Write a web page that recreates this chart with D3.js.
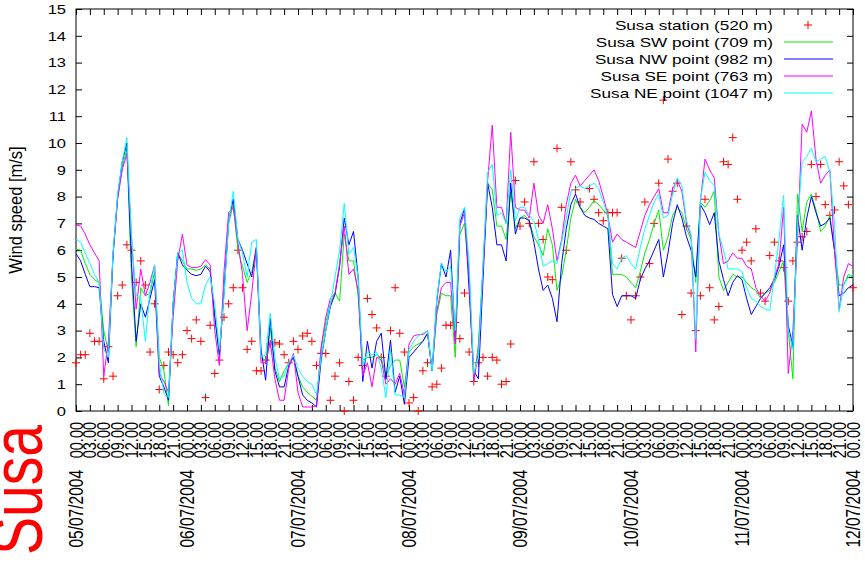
<!DOCTYPE html>
<html>
<head>
<meta charset="utf-8">
<script src="https://cdn.jsdelivr.net/npm/d3@7"></script>
<style>
  html, body { margin: 0; padding: 0; background: #fff; }
  svg { display: block; }
  text { font-family: "Liberation Sans", Arial, Helvetica, sans-serif; }
</style>
</head>
<body>
<svg id="chart" width="865" height="563"></svg>
<script>
// ---------------- data ----------------
const startTime = "2004-07-05T00:00:00Z";
const endTime = "2004-07-12T00:00:00Z";
const stepHours = 1;
const yTicks = [0,1,2,3,4,5,6,7,8,9,10,11,12,13,14,15];
const seriesNames = ["Susa station (520 m)", "Susa SW point (709 m)", "Susa NW point (982 m)", "Susa SE point (763 m)", "Susa NE point (1047 m)"];
const seriesColors = ["#ff0000", "#00ee00", "#0000ff", "#ff00ff", "#00ffff"];
const yTitle = "Wind speed [m/s]";
const sideTitle = "Susa";

const station = [1.8,2.1,2.1,2.9,2.6,2.6,1.2,2.4,1.3,4.3,4.7,6.2,6.0,4.8,5.6,4.7,2.2,4.0,0.8,1.7,2.2,2.1,1.8,2.1,
 3.0,2.7,3.4,2.6,0.5,3.2,1.4,1.9,3.5,4.0,4.6,6.0,4.6,2.3,2.6,1.5,1.5,1.9,2.5,2.55,2.5,2.1,1.8,2.6,
 2.3,2.8,2.9,2.6,1.7,2.15,2.15,0.4,1.3,1.8,0.0,1.1,0.4,2.0,1.7,4.2,3.6,3.1,2.0,1.3,3.0,4.6,2.9,2.2,
 0.3,0.5,0.0,1.5,1.8,0.9,1.0,1.6,3.2,3.2,3.3,2.7,4.4,2.2,1.1,1.8,2.0,1.3,2.0,1.9,1.0,1.1,2.5,8.6,
 6.9,7.8,7.0,9.3,7.0,6.4,5.0,4.9,9.8,7.6,6.0,9.3,8.25,7.8,null,8.3,7.9,7.4,7.1,7.4,7.4,7.4,5.7,4.3,
 3.4,4.3,5.0,7.8,5.5,7.0,8.5,11.6,9.4,8.2,8.5,3.6,6.9,4.4,3.0,4.3,7.9,4.6,3.4,3.9,9.3,9.2,10.2,7.9,
 6.0,6.3,5.6,6.8,4.4,4.1,5.8,6.3,5.6,5.35,4.1,5.6,6.3,6.5,6.7,9.2,8.0,9.2,7.7,7.3,7.5,9.3,8.4,7.7,
 4.6];

const sw = [6.04,6.0,5.5,5.1,4.9,4.8,3.0,2.2,5.8,8.0,9.1,9.8,5.0,2.4,4.6,4.3,4.4,5.2,2.0,1.5,0.2,4.0,5.9,5.6,
 5.3,5.3,5.25,5.3,5.45,5.3,3.6,2.0,4.5,7.0,7.7,6.0,5.4,4.8,5.2,6.1,2.0,1.9,3.1,1.6,1.1,1.5,1.8,2.0,
 1.3,0.9,0.7,0.55,0.4,2.3,3.3,4.0,4.4,4.1,6.6,5.6,5.6,4.3,1.9,2.0,2.0,2.1,2.0,1.3,1.7,1.9,1.9,0.9,
 2.2,2.4,2.5,2.6,2.9,1.5,3.6,4.4,4.3,4.3,2.0,6.6,7.0,5.0,1.1,2.5,5.3,8.5,8.25,6.9,6.9,6.4,8.2,6.8,
 7.2,7.3,7.1,6.5,6.2,5.8,6.8,6.2,4.5,5.0,6.0,7.2,7.9,7.6,7.4,7.6,7.85,7.7,7.5,7.3,5.1,5.1,5.1,5.0,
 4.8,4.6,5.2,5.9,6.4,7.0,7.5,6.0,6.5,7.3,7.6,7.4,6.8,6.4,4.8,7.8,7.6,7.85,8.2,5.0,4.5,4.8,5.1,5.0,
 5.0,4.8,4.6,4.5,4.2,4.4,4.5,4.8,5.2,5.6,3.0,1.2,8.1,6.7,7.8,8.1,7.5,6.7,6.9,7.3,6.0,4.7,4.7,5.1,
 5.0];

const nw = [5.87,5.6,5.1,4.64,4.64,4.6,2.6,1.8,5.8,8.0,9.3,10.0,5.5,2.6,4.0,3.5,4.2,4.9,1.3,0.9,0.4,4.0,5.9,5.45,
 5.25,5.1,5.05,5.1,5.4,5.2,3.5,2.1,4.4,7.1,7.9,6.4,6.0,5.5,5.0,6.1,2.3,1.15,3.46,1.5,0.9,0.9,1.7,2.0,
 1.3,0.6,0.4,0.3,0.15,1.9,3.0,3.9,4.35,5.4,7.2,6.2,6.7,5.0,1.1,2.6,1.6,2.6,2.9,1.2,2.65,0.7,1.3,0.25,
 2.0,2.2,2.4,2.6,2.9,1.5,4.1,5.5,5.0,6.0,2.6,7.0,7.55,4.5,1.5,1.2,4.9,8.5,7.6,6.2,6.2,5.6,8.5,6.6,
 7.2,7.2,7.1,6.3,5.3,4.5,4.7,4.2,3.33,5.5,6.8,7.7,8.1,7.6,7.3,7.2,7.15,7.0,6.9,6.8,4.35,3.9,4.3,4.3,
 4.3,4.2,4.9,5.3,5.6,6.0,6.4,5.0,5.9,7.0,7.7,7.2,6.5,6.0,5.0,7.7,7.4,6.95,7.4,5.6,4.9,4.3,4.8,5.05,
 4.9,4.2,3.6,3.9,4.2,4.4,4.6,4.9,5.4,6.2,3.2,2.4,7.3,6.0,7.2,8.0,7.4,6.9,7.0,7.2,6.0,4.3,4.4,4.6,
 4.7];

const se = [6.94,6.9,6.6,6.2,5.9,5.6,1.3,2.6,5.8,7.9,9.0,9.6,6.5,3.8,5.3,4.3,4.8,5.45,1.4,1.1,0.7,3.5,5.6,6.6,
 5.45,5.35,5.35,5.4,5.65,5.45,3.0,1.7,5.2,7.4,7.6,6.3,5.1,3.0,4.4,6.1,1.8,1.8,2.6,1.2,0.4,0.4,1.6,2.15,
 0.7,0.15,0.15,0.15,0.2,2.4,3.5,4.2,4.4,5.5,6.9,5.1,5.3,4.5,1.3,1.8,0.9,2.0,1.9,1.0,1.2,1.0,1.4,0.6,
 2.5,2.8,2.85,2.85,3.0,1.5,3.7,4.6,4.8,4.8,2.5,6.9,7.4,5.0,1.1,2.2,5.3,8.6,10.67,7.6,7.6,7.0,10.4,7.6,
 7.5,7.5,7.2,8.5,7.3,7.0,7.7,6.8,5.6,6.4,7.7,8.5,8.8,8.4,8.6,8.8,9.0,8.6,8.0,7.3,6.3,6.6,6.4,6.3,
 6.2,6.1,6.7,7.3,7.7,8.0,8.3,7.4,7.4,8.3,8.6,8.2,7.0,6.5,2.2,7.8,9.4,9.0,8.7,6.6,5.5,5.6,5.9,5.7,
 5.7,5.4,5.3,4.6,4.3,4.1,4.4,5.0,5.5,7.6,1.4,3.0,6.4,10.7,10.4,11.2,9.4,8.5,8.8,9.0,6.0,3.8,5.0,5.5,
 5.4];

const ne = [6.42,6.3,5.9,5.5,5.1,4.8,2.3,2.0,5.9,8.1,9.3,10.2,6.5,4.3,4.2,2.6,4.5,5.45,1.8,0.65,0.5,4.0,5.9,6.0,
 4.8,4.2,4.0,4.0,4.7,5.0,4.0,2.3,4.3,7.0,8.2,6.4,5.9,5.0,6.3,6.4,2.0,2.1,3.65,2.0,1.2,1.3,1.8,2.1,
 1.6,1.3,1.1,1.0,0.6,2.0,3.0,4.0,5.0,6.0,7.75,5.85,6.1,5.0,1.7,2.2,2.1,2.2,1.6,0.5,2.3,0.6,0.6,0.5,
 2.3,2.6,2.8,2.9,3.0,1.5,4.2,5.5,5.2,5.4,3.0,7.2,7.6,5.5,1.4,2.0,5.5,8.9,9.2,7.3,7.4,7.0,9.0,7.1,
 7.6,7.6,7.3,7.1,6.4,5.4,5.5,5.6,5.5,6.3,7.2,8.2,8.3,8.4,8.3,8.4,8.5,8.3,7.8,7.3,5.5,5.3,5.7,5.8,
 5.5,5.3,6.1,6.8,7.3,7.8,8.1,7.2,7.3,8.1,8.7,8.4,7.1,6.6,2.7,7.9,8.9,8.6,8.4,6.6,6.0,5.3,5.3,5.3,
 5.2,4.6,4.2,4.1,3.9,3.8,3.75,5.0,6.4,8.06,3.0,2.3,7.0,9.3,9.5,9.8,9.3,9.4,9.5,8.9,7.0,3.7,4.7,5.0,
 5.1];

// ---------------- layout ----------------
const W = 865, H = 563;
const plot = { left: 76, right: 853, top: 9, bottom: 411 };
const textStretch = 1.27;   // the reference image is horizontally stretched

const svg = d3.select("#chart");
svg.append("rect").attr("width", W).attr("height", H).attr("fill", "#fff");

const t0 = new Date(startTime), t1 = new Date(endTime);
const timeAt = i => d3.utcHour.offset(t0, i * stepHours);

const x = d3.scaleUtc().domain([t0, t1]).range([plot.left, plot.right]);
const y = d3.scaleLinear().domain([0, 15]).range([plot.bottom, plot.top]);

// ---------------- axes ----------------
const tick3h = d3.utcHour.every(3).range(t0, d3.utcHour.offset(t1, 1));
const tickDays = d3.utcDay.range(t0, d3.utcHour.offset(t1, 1));

// left
const gLeft = svg.append("g").attr("transform", `translate(${plot.left},0)`)
  .call(d3.axisLeft(y).tickValues(yTicks).tickSize(-6).tickPadding(0).tickFormat(d3.format("d")));
gLeft.selectAll("text")
  .attr("x", 0).attr("dy", null)
  .attr("transform", `translate(-10,0) scale(${textStretch},1)`)
  .attr("dominant-baseline", "central")
  .attr("font-size", 13).attr("fill", "#000");
// right
svg.append("g").attr("transform", `translate(${plot.right},0)`)
  .call(d3.axisRight(y).tickValues(yTicks).tickSize(-6).tickFormat(""));
// top
svg.append("g").attr("transform", `translate(0,${plot.top})`)
  .call(d3.axisTop(x).tickValues(tick3h).tickSize(-6).tickFormat(""));
// bottom (time-of-day labels)
const gBottom = svg.append("g").attr("transform", `translate(0,${plot.bottom})`)
  .call(d3.axisBottom(x).tickValues(tick3h).tickSize(-6).tickFormat(d3.utcFormat("%H.%M")));
gBottom.selectAll("text")
  .attr("y", 0).attr("dy", null).attr("x", 0)
  .attr("transform", `translate(0,11) scale(${textStretch},1) rotate(-90)`)
  .attr("text-anchor", "end")
  .attr("dominant-baseline", "central")
  .attr("font-size", 14.5).attr("fill", "#000");
// bottom (date labels)
const gDates = svg.append("g").attr("transform", `translate(0,${plot.bottom})`)
  .call(d3.axisBottom(x).tickValues(tickDays).tickSize(0).tickFormat(d3.utcFormat("%d/%m/%Y")));
gDates.select(".domain").remove();
gDates.selectAll("text")
  .attr("y", 0).attr("dy", null).attr("x", 0)
  .attr("transform", `translate(0,59) scale(${textStretch},1) rotate(-90)`)
  .attr("text-anchor", "end")
  .attr("dominant-baseline", "central")
  .attr("font-size", 15.5).attr("fill", "#000");

svg.selectAll(".domain").attr("stroke", "none");
svg.selectAll(".tick line").attr("stroke", "#000").attr("stroke-width", 1);

// frame
svg.append("rect")
  .attr("x", plot.left).attr("y", plot.top)
  .attr("width", plot.right - plot.left).attr("height", plot.bottom - plot.top)
  .attr("fill", "none").attr("stroke", "#000").attr("stroke-width", 1);

// y title
svg.append("text")
  .attr("transform", `translate(16,${(plot.top + plot.bottom) / 2}) scale(1.15,1) rotate(-90)`)
  .attr("text-anchor", "middle").attr("dominant-baseline", "central")
  .attr("font-size", 16.5).attr("fill", "#000")
  .text(yTitle);

// big red side title
svg.append("text")
  .attr("transform", `translate(42,555) scale(${textStretch},1) rotate(-90)`)
  .attr("text-anchor", "start")
  .attr("font-size", 57).attr("fill", "#ff0000")
  .text(sideTitle);

// ---------------- marks ----------------
const clipId = "plotclip";
svg.append("clipPath").attr("id", clipId).append("rect")
  .attr("x", plot.left - 5).attr("y", plot.top).attr("width", plot.right - plot.left + 10)
  .attr("height", plot.bottom - plot.top + 10);

const marks = svg.append("g").attr("clip-path", `url(#${clipId})`);

const cross = 4;
marks.append("g").selectAll("path").data(station.map((v, i) => [timeAt(i), v]).filter(d => d[1] != null))
  .join("path")
  .attr("d", d => {
    const cx = x(d[0]), cy = y(d[1]);
    return `M${cx - cross},${cy}H${cx + cross}M${cx},${cy - cross}V${cy + cross}`;
  })
  .attr("stroke", seriesColors[0]).attr("stroke-width", 1).attr("fill", "none");

const line = d3.line()
  .defined(d => d[1] != null)
  .x(d => x(d[0])).y(d => y(d[1]));

[sw, nw, se, ne].forEach((arr, k) => {
  marks.append("path")
    .datum(arr.map((v, i) => [timeAt(i), v]))
    .attr("d", line)
    .attr("fill", "none")
    .attr("stroke", seriesColors[k + 1])
    .attr("stroke-width", 1)
    .attr("stroke-linejoin", "round");
});

// ---------------- legend ----------------
const legend = svg.append("g");
const legY0 = 25, legDy = 17;
seriesNames.forEach((name, k) => {
  const ly = legY0 + k * legDy;
  legend.append("text")
    .attr("transform", `translate(773,${ly}) scale(${textStretch},1)`)
    .attr("text-anchor", "end").attr("dominant-baseline", "central")
    .attr("font-size", 13.5).attr("fill", "#000")
    .text(name);
  if (k === 0) {
    legend.append("path")
      .attr("d", `M${808 - cross},${ly}H${808 + cross}M808,${ly - cross}V${ly + cross}`)
      .attr("stroke", seriesColors[0]).attr("fill", "none");
  } else {
    legend.append("line")
      .attr("x1", 784).attr("x2", 833).attr("y1", ly).attr("y2", ly)
      .attr("stroke", seriesColors[k]).attr("stroke-width", 1);
  }
});
</script>
</body>
</html>
